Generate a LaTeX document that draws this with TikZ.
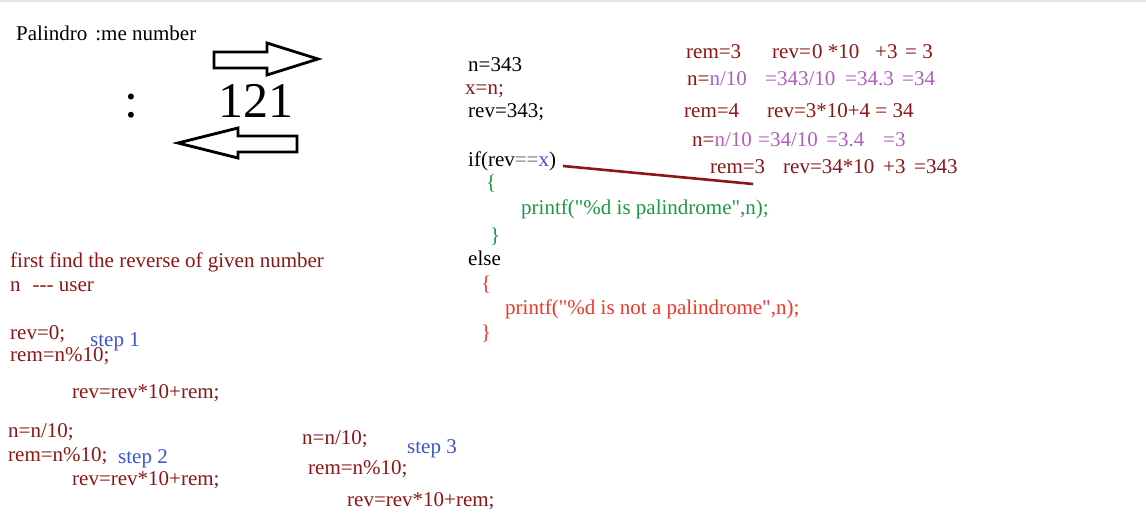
\documentclass[tikz,border=0pt]{standalone}
\usepackage{fontspec}
\setmainfont{Liberation Serif}[Ligatures=TeXOff]
\definecolor{dred}{RGB}{140,22,22}
\definecolor{purp}{RGB}{176,96,186}
\definecolor{cgreen}{RGB}{30,150,72}
\definecolor{cred}{RGB}{236,56,40}
\definecolor{cblue}{RGB}{60,84,204}
\definecolor{cgray}{RGB}{110,110,120}
\definecolor{topline}{RGB}{222,228,238}
\newcommand{\dq}{\symbol{34}}
\begin{document}
\begin{tikzpicture}[x=1pt,y=-1pt,
  txt/.style={anchor=base west,inner sep=0pt,font=\fontsize{21}{25}\selectfont},
  big/.style={anchor=base west,inner sep=0pt,font=\fontsize{50}{60}\selectfont},
  blockarrow/.style={draw=black,line width=2.8pt,line join=miter,fill=white},
  link/.style={draw=dred,line width=2.6pt}]
\useasboundingbox (0,0) rectangle (1146,521);
\fill[white] (0,0) rectangle (1146,521);
\draw[topline,line width=2pt] (0,1) -- (1146,1);

% title and 121
\node[txt] (title) at (16,41) {Palindro\hspace{8pt}:me number};
\node[big] (colon) at (124,118) {:};
\node[big] (num) at (218,118) {121};
\draw[blockarrow] (214,52) -- (267,52) -- (267,43) -- (318,59) -- (267,75) -- (267,68) -- (214,68) -- cycle;
\draw[blockarrow] (297,136) -- (238,136) -- (238,128) -- (178,143) -- (238,158) -- (238,152) -- (297,152) -- cycle;

% code block
\node[txt] (n343) at (468,72) {n=343};
\node[txt,text=dred] (xn) at (465,95) {x=n;};
\node[txt] (rev343) at (468,118) {rev=343;};
\node[txt] (ifc) at (468,167) {if(rev\textcolor{cgray}{==}\textcolor{cblue}{x})};
\node[txt,text=cgreen] (ob1) at (486,190) {\{};
\node[txt,text=cgreen] (pr1) at (521,215) {printf(\dq\%d is palindrome\dq,n);};
\node[txt,text=cgreen] (cb1) at (490,243) {\}};
\node[txt] (else) at (468,266) {else};
\node[txt,text=cred] (ob2) at (481,291) {\{};
\node[txt,text=cred] (pr2) at (505,315) {printf(\dq\%d is not a palindrome\dq,n);};
\node[txt,text=cred] (cb2) at (481,339) {\}};

% trace
\node[txt,text=dred] (r1) at (686,59) {rem=3};
\node[txt,text=dred] (v1a) at (772,59) {rev=};
\node[txt,text=dred] (v1b) at (812,59) {0 *10};
\node[txt,text=dred] (v1c) at (875,59) {+3};
\node[txt,text=dred] (v1d) at (905,59) {= 3};
\node[txt] (d1a) at (687,86) {\textcolor{dred}{n=}\textcolor{purp}{n/10}};
\node[txt,text=purp] (d1b) at (765,86) {=343/10};
\node[txt,text=purp] (d1c) at (845,86) {=34.3};
\node[txt,text=purp] (d1d) at (902,86) {=34};
\node[txt,text=dred] (r2) at (684,118) {rem=4};
\node[txt,text=dred] (v2) at (767,118) {rev=3*10+4 = 34};
\node[txt] (d2a) at (692,147) {\textcolor{dred}{n=}\textcolor{purp}{n/10}};
\node[txt,text=purp] (d2b) at (758,147) {=34/10};
\node[txt,text=purp] (d2c) at (826,147) {=3.4};
\node[txt,text=purp] (d2d) at (883,147) {=3};
\node[txt,text=dred] (r3) at (710,174) {rem=3};
\node[txt,text=dred] (v3a) at (783,174) {rev=34*10};
\node[txt,text=dred] (v3b) at (883,174) {+3};
\node[txt,text=dred] (v3c) at (914,174) {=343};
\coordinate (lnA) at (563,166);
\coordinate (lnB) at (753,184);
\draw[link] (lnA) -- (lnB);

% left explanation
\node[txt,text=dred] (first) at (10,268) {first find the reverse of given number};
\node[txt,text=dred] (user) at (10,292) {n\hspace{12pt}{-}{-}{-} user};
\node[txt,text=dred] (rev0) at (10,340) {rev=0;};
\node[txt,text=cblue] (s1) at (90,347) {step 1};
\node[txt,text=dred] (rem1) at (10,362) {rem=n\%10;};
\node[txt,text=dred] (rr1) at (72,398) {rev=rev*10+rem;};
\node[txt,text=dred] (nn2) at (8,437) {n=n/10;};
\node[txt,text=dred] (rem2) at (8,461) {rem=n\%10;};
\node[txt,text=cblue] (s2) at (118,463) {step 2};
\node[txt,text=dred] (rr2) at (72,485) {rev=rev*10+rem;};
\node[txt,text=dred] (nn3) at (302,444) {n=n/10;};
\node[txt,text=cblue] (s3) at (407,453) {step 3};
\node[txt,text=dred] (rem3) at (308,474) {rem=n\%10;};
\node[txt,text=dred] (rr3) at (347,506) {rev=rev*10+rem;};
\end{tikzpicture}
\end{document}
